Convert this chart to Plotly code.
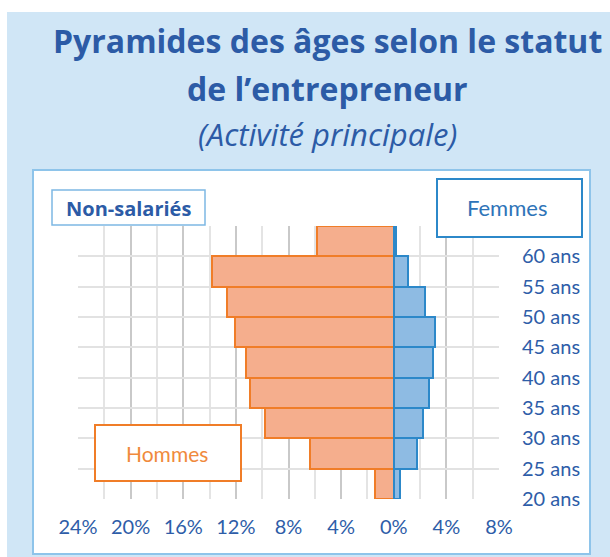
import plotly.graph_objects as go

# ---------------- data ----------------
ages = [20, 25, 30, 35, 40, 45, 50, 55, 60]
age_labels = ["20 ans", "25 ans", "30 ans", "35 ans", "40 ans",
              "45 ans", "50 ans", "55 ans", "60 ans"]
hommes = [1.4, 6.4, 9.8, 10.9, 11.2, 12.1, 12.7, 13.8, 5.8]   # % (left side)
femmes = [0.45, 1.75, 2.2, 2.7, 2.95, 3.1, 2.35, 1.05, 0.2]   # % (right side)
x_tick_values = [-24, -20, -16, -12, -8, -4, 0, 4, 8]
x_tick_labels = ["24%", "20%", "16%", "12%", "8%", "4%", "0%", "4%", "8%"]

# ---------------- geometry helpers (pixel -> paper) ----------------
FW, FH = 610, 557
L, R, T, B = 78, 499, 226, 499
PW, PH = R - L, B - T


def px(x):
    return (x - L) / PW


def py(y):
    return (B - y) / PH


TITLE_BLUE = "#2C5BA6"
TICK_BLUE = "#2E5DA8"
ORANGE_LINE = "#F07D28"
ORANGE_FILL = "#F5AE8D"
BLUE_LINE = "#2C88C9"
BLUE_FILL = "#8EBBE3"
FONT = "Lato"
BOLD_FONT = "Open Sans"

fig = go.Figure()
fig.add_trace(go.Bar(
    x=[-v for v in hommes], y=ages, orientation="h", width=5,
    marker=dict(color=ORANGE_FILL, line=dict(color=ORANGE_LINE, width=2)),
    name="Hommes", hoverinfo="skip"))
fig.add_trace(go.Bar(
    x=femmes, y=ages, orientation="h", width=5,
    marker=dict(color=BLUE_FILL, line=dict(color=BLUE_LINE, width=2)),
    name="Femmes", hoverinfo="skip"))

shapes = [
    # light blue background
    dict(type="rect", xref="paper", yref="paper", layer="below",
         x0=px(7), x1=px(FW + 5), y0=py(12), y1=py(FH + 5),
         fillcolor="#D0E6F6", line=dict(width=0)),
    # white chart panel
    dict(type="rect", xref="paper", yref="paper", layer="below",
         x0=px(33), x1=px(590), y0=py(170), y1=py(554),
         fillcolor="white", line=dict(color="#8EC4EA", width=2)),
    # legend boxes
    dict(type="rect", xref="paper", yref="paper", layer="above",
         x0=px(52), x1=px(205), y0=py(190), y1=py(225),
         fillcolor="white", line=dict(color="#7DB8E4", width=1.5)),
    dict(type="rect", xref="paper", yref="paper", layer="above",
         x0=px(437), x1=px(582), y0=py(179), y1=py(237),
         fillcolor="white", line=dict(color=BLUE_LINE, width=2)),
    dict(type="rect", xref="paper", yref="paper", layer="above",
         x0=px(95), x1=px(241), y0=py(425), y1=py(481),
         fillcolor="white", line=dict(color=ORANGE_LINE, width=2)),
]

annotations = [
    dict(text="<b>Pyramides des âges selon le statut</b>", x=px(327), y=py(40),
         font=dict(family=BOLD_FONT, size=32, color=TITLE_BLUE)),
    dict(text="<b>de l’entrepreneur</b>", x=px(327), y=py(88),
         font=dict(family=BOLD_FONT, size=32, color=TITLE_BLUE)),
    dict(text="<i>(Activité principale)</i>", x=px(327), y=py(134),
         font=dict(family=BOLD_FONT, size=31, color=TITLE_BLUE)),
    dict(text="<b>Non-salariés</b>", x=px(128), y=py(208),
         font=dict(family=BOLD_FONT, size=20, color=TITLE_BLUE)),
    dict(text="Femmes", x=px(507), y=py(207),
         font=dict(family=FONT, size=22, color="#2E74B8")),
    dict(text="Hommes", x=px(167), y=py(453),
         font=dict(family=FONT, size=21, color="#F08A3C")),
]
for a in annotations:
    a.update(xref="paper", yref="paper", showarrow=False,
             xanchor="center", yanchor="middle")

fig.update_layout(
    width=FW, height=FH,
    margin=dict(l=L, r=FW - R, t=T, b=FH - B, autoexpand=False),
    paper_bgcolor="white", plot_bgcolor="white",
    barmode="overlay", bargap=0, showlegend=False,
    shapes=shapes, annotations=annotations,
    font=dict(family=FONT),
    xaxis=dict(range=[-24, 8], tickmode="array", tickvals=x_tick_values,
               ticktext=x_tick_labels, showgrid=True, gridcolor="#C9C9C9",
               gridwidth=2, zeroline=False, showline=False, ticks="",
               ticklabelstandoff=14,
               tickfont=dict(family=FONT, size=20, color=TICK_BLUE),
               minor=dict(tickmode="linear", tick0=0, dtick=2, showgrid=True,
                          gridcolor="#E4E4E4", gridwidth=1.5, ticks="")),
    yaxis=dict(range=[17.5, 62.5], tickmode="array",
               tickvals=[a - 2.5 for a in ages] + [62.5],
               ticktext=age_labels + [""], side="right",
               showgrid=True, gridcolor="#E2E2E2", gridwidth=1.5,
               zeroline=False, showline=False, ticks="",
               ticklabelstandoff=22,
               tickfont=dict(family=FONT, size=20, color=TICK_BLUE)),
)

fig.write_html(
    "out.html",
    config={"displayModeBar": False},
    post_script="document.body.style.margin='0';document.body.style.padding='0';"
                "document.body.style.overflow='hidden';",
)
